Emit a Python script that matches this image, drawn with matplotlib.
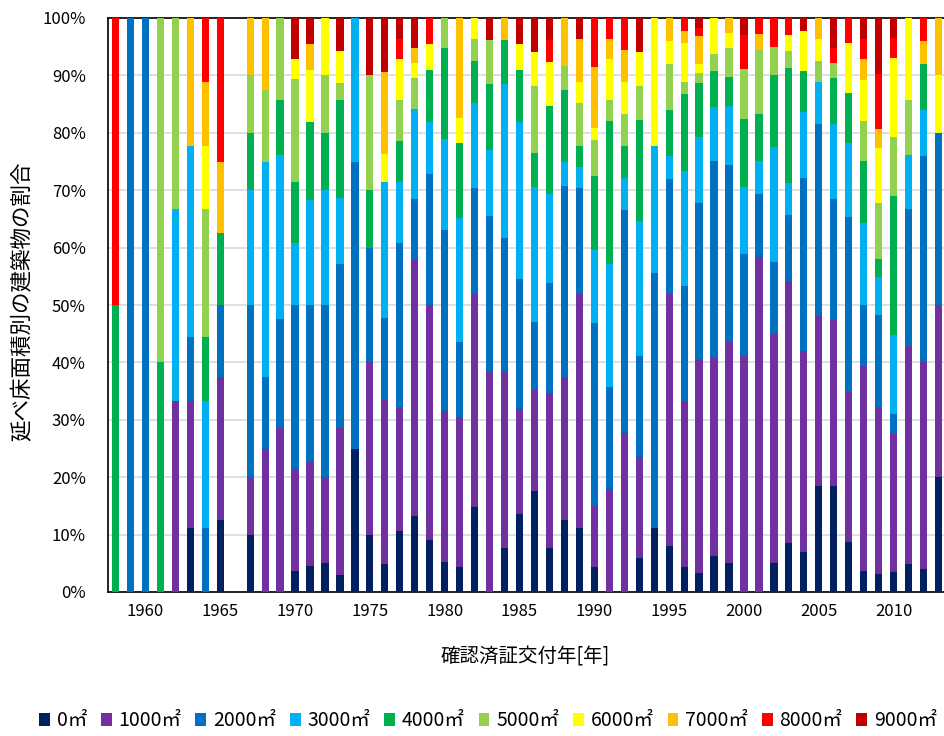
import numpy as np
import matplotlib
matplotlib.use("Agg")
import matplotlib.pyplot as plt
from matplotlib.patches import Patch

plt.rcParams['font.family'] = ['Noto Sans CJK JP', 'DejaVu Sans']

years = list(range(1958, 2014))
categories = ['0㎡', '1000㎡', '2000㎡', '3000㎡', '4000㎡',
              '5000㎡', '6000㎡', '7000㎡', '8000㎡', '9000㎡']
colors = ['#002060', '#7030A0', '#0070C0', '#00B0F0', '#00B050',
          '#92D050', '#FFFF00', '#FFC000', '#FF0000', '#C00000']

# shares (%) per year, 1958..2013
s0 = [0, 0, 0, 0, 0, 11.1, 0, 12.5, 0, 10,
      0, 0, 3.6, 4.5, 5, 2.9, 25, 10, 4.8, 10.7,
      13.2, 9.1, 5.3, 4.3, 14.8, 0, 7.7, 13.6, 17.6, 7.7,
      12.5, 11.1, 4.3, 0, 0, 5.9, 11.1, 8, 4.4, 3.3,
      6.3, 5.1, 0, 0, 5, 8.6, 7.0, 18.5, 18.4, 8.7,
      3.6, 3.2, 3.45, 4.8, 4, 20]
s1 = [0, 0, 0, 0, 33.3, 22.2, 0, 25, 0, 10,
      25, 28.6, 17.9, 18.2, 15, 25.7, 0, 30, 28.6, 21.4,
      44.7, 40.9, 26.3, 26.1, 37.0, 38.5, 30.8, 18.2, 17.6, 26.9,
      25, 40.7, 10.6, 17.9, 27.8, 17.6, 0, 44, 28.9, 37.1,
      34.4, 38.5, 41.2, 58.3, 40, 45.7, 34.9, 29.6, 28.9, 26.1,
      35.7, 29.0, 24.14, 38.1, 36, 30]
s2 = [0, 100, 100, 0, 0, 11.1, 11.1, 12.5, 0, 30,
      12.5, 19.0, 28.6, 27.3, 30, 28.6, 50, 20, 14.3, 28.6,
      10.5, 22.7, 31.6, 13.0, 18.5, 26.9, 23.1, 22.7, 11.8, 19.2,
      33.3, 18.5, 31.9, 17.9, 38.9, 17.6, 44.4, 20, 20, 27.4,
      34.4, 30.8, 17.6, 11.1, 12.5, 11.4, 30.2, 33.3, 21.1, 30.4,
      10.7, 16.1, 3.45, 23.8, 36, 30]
s3 = [0, 0, 0, 0, 33.3, 33.3, 22.2, 0, 0, 20,
      37.5, 28.6, 10.7, 18.2, 20, 11.4, 25, 0, 23.8, 10.7,
      15.8, 9.1, 15.8, 21.7, 14.8, 11.5, 26.9, 27.3, 23.5, 15.4,
      4.2, 3.7, 12.8, 21.4, 5.6, 23.5, 22.2, 4, 20, 11.4,
      9.4, 10.3, 11.8, 5.6, 20, 5.7, 11.6, 7.4, 13.2, 13.0,
      14.3, 6.5, 13.79, 9.5, 8, 0]
s4 = [50, 0, 0, 40, 0, 0, 11.1, 12.5, 0, 10,
      0, 9.5, 10.7, 13.6, 10, 17.1, 0, 10, 0, 7.1,
      0, 9.1, 15.8, 13.0, 7.4, 11.5, 7.7, 9.1, 5.9, 15.4,
      12.5, 3.7, 12.8, 25, 5.6, 17.6, 0, 8, 13.3, 9.5,
      6.2, 5.1, 11.8, 8.3, 12.5, 20, 7.0, 0, 7.9, 8.7,
      10.7, 3.2, 24.14, 0, 8, 0]
s5 = [0, 0, 0, 60, 33.3, 0, 22.2, 0, 0, 10,
      12.5, 14.3, 17.9, 0, 10, 2.9, 0, 20, 0, 7.1,
      5.3, 0, 5.3, 0, 3.7, 7.7, 0, 0, 11.8, 0,
      4.2, 7.4, 6.4, 3.6, 5.6, 5.9, 0, 8, 2.2, 1.8,
      3.1, 5.1, 8.8, 11.1, 5, 2.9, 0, 3.7, 2.6, 0,
      7.1, 9.7, 10.34, 9.5, 0, 0]
s6 = [0, 0, 0, 0, 0, 0, 11.1, 0, 0, 0,
      0, 0, 3.6, 9.1, 10, 5.7, 0, 0, 4.8, 7.1,
      2.6, 4.5, 0, 4.3, 3.7, 0, 0, 4.5, 5.9, 7.7,
      0, 3.7, 2.1, 7.1, 5.6, 5.9, 22.2, 4, 6.7, 1.4,
      6.2, 2.6, 0, 0, 0, 2.9, 7.0, 3.7, 0, 8.7,
      7.1, 9.7, 13.79, 14.3, 0, 10]
s7 = [0, 0, 0, 0, 0, 22.2, 11.1, 12.5, 0, 10,
      12.5, 0, 0, 4.5, 0, 0, 0, 0, 14.3, 0,
      2.6, 0, 0, 17.4, 0, 0, 3.8, 0, 0, 0,
      8.3, 7.4, 10.6, 3.6, 5.6, 0, 0, 4, 2.2, 5.0,
      0, 2.6, 0, 2.8, 0, 0, 0, 3.7, 0, 0,
      3.6, 3.2, 0, 0, 4, 10]
s8 = [50, 0, 0, 0, 0, 0, 11.1, 25, 0, 0,
      0, 0, 0, 0, 0, 0, 0, 0, 0, 3.6,
      0, 4.5, 0, 0, 0, 0, 0, 0, 0, 3.8,
      0, 0, 8.5, 3.6, 5.6, 0, 0, 0, 2.2, 1.4,
      0, 0, 5.9, 2.8, 5, 2.9, 0, 0, 2.6, 4.3,
      3.6, 9.7, 3.45, 0, 4, 0]
s9 = [0, 0, 0, 0, 0, 0, 0, 0, 0, 0,
      0, 0, 7.1, 4.5, 0, 5.7, 0, 10, 9.5, 3.6,
      5.3, 0, 0, 0, 0, 3.8, 0, 4.5, 5.9, 3.8,
      0, 3.7, 0, 0, 0, 5.9, 0, 0, 0, 1.7,
      0, 0, 2.9, 0, 0, 0, 2.3, 0, 5.3, 0,
      3.6, 9.7, 3.45, 0, 0, 0]

xtick_years = [1960, 1965, 1970, 1975, 1980, 1985, 1990, 1995, 2000, 2005, 2010]
ytick_vals = [0, 10, 20, 30, 40, 50, 60, 70, 80, 90, 100]

series = np.array([s0, s1, s2, s3, s4, s5, s6, s7, s8, s9], dtype=float)
totals = series.sum(axis=0)
shares = np.divide(series, totals, out=np.zeros_like(series), where=totals > 0)

W, H = 944, 736
fig = plt.figure(figsize=(W / 100, H / 100), dpi=100)
ax = fig.add_axes([108 / W, (H - 592) / H, 838 / W, 574 / H])

x = np.array(years)
bottom = np.zeros(len(years))
for i in range(len(categories)):
    ax.bar(x, shares[i], width=0.48, bottom=bottom, color=colors[i],
           edgecolor='none', zorder=3)
    bottom += shares[i]

ax.set_xlim(1957.5, 2013.5)
ax.set_ylim(0, 1)
ax.set_yticks([v / 100 for v in ytick_vals])
ax.set_yticklabels([f'{v}%' for v in ytick_vals], fontsize=12, color='#000000')
ax.set_xticks(xtick_years)
ax.set_xticklabels([str(y) for y in xtick_years], fontsize=12, color='#000000')
ax.tick_params(axis='both', length=0)
ax.tick_params(axis='x', pad=8)
ax.tick_params(axis='y', pad=16)
ax.grid(axis='y', color='#D9D9D9', linewidth=1.2, zorder=0)
for side in ['left', 'bottom', 'top']:
    ax.spines[side].set_color('#000000')
    ax.spines[side].set_linewidth(1.2)
ax.spines['right'].set_visible(False)

fig.text(525 / W, 1 - 657 / H, '確認済証交付年[年]', ha='center', va='center',
         fontsize=14, color='#000000')
fig.text(23 / W, 1 - 301 / H, '延べ床面積別の建築物の割合', ha='center', va='center',
         rotation=90, fontsize=15.5, color='#000000')

handles = [Patch(facecolor=c, edgecolor='none') for c in colors]
fig.legend(handles, categories, loc='center', bbox_to_anchor=(488 / W, 1 - 721 / H),
           ncol=10, frameon=False, fontsize=14, handlelength=0.55, handleheight=0.65,
           handletextpad=0.35, columnspacing=0.72)

fig.savefig('out.png', dpi=100)
